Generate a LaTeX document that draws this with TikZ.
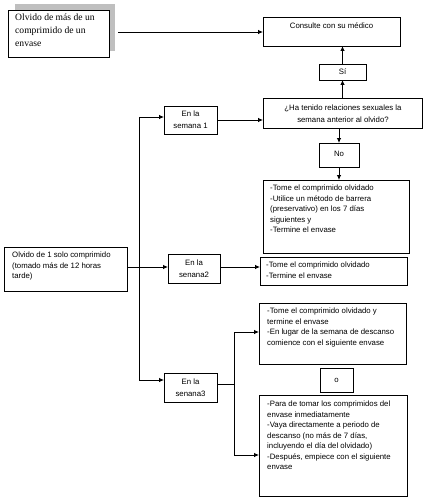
\documentclass[tikz,border=0pt]{standalone}
\usepackage{fontspec}
\setmainfont{Liberation Sans}
\newfontfamily\serifr{Liberation Serif}
\usetikzlibrary{arrows.meta,calc}
\begin{document}
\begin{tikzpicture}[x=1pt,y=-1pt,
 bx/.style={draw, line width=0.8pt, anchor=north west, inner sep=0pt, outer sep=0pt},
 arr/.style={line width=0.8pt, -{Latex[length=5pt,width=4.5pt]}},
 ln/.style={line width=0.8pt},
 txt/.style={font=\fontsize{7.8}{10.5}\selectfont, align=left, anchor=north west, inner sep=0pt},
 ctxt/.style={font=\fontsize{7.8}{11.8}\selectfont, align=center, inner sep=0pt}]
\useasboundingbox (0,0) rectangle (423,500);
% shadowed top-left box
\fill[black!25] (15,4) rectangle (115,51);
\node[bx, fill=white, minimum width=101pt, minimum height=47pt] (b0) at (8,10) {};
\node[txt, font=\serifr\fontsize{9.6}{13}\selectfont] (t0) at (15,14) {Olvido de más de un\\comprimido de un\\envase};
% right column
\node[bx, minimum width=137pt, minimum height=29pt] (cons) at (263,17) {};
\node[ctxt] (tcons) at (331.5,26) {Consulte con su médico};
\node[bx, minimum width=47pt, minimum height=16pt] (si) at (319,64) {};
\node[ctxt] (tsi) at (si.center) {Sí};
\node[bx, minimum width=159pt, minimum height=30pt] (q) at (263,98) {};
\node[ctxt] (tq) at (343,114) {¿Ha tenido relaciones sexuales la\\semana anterior al olvido?};
\node[bx, minimum width=40pt, minimum height=24pt] (no) at (319,143) {};
\node[ctxt] (tno) at (339,154) {No};
\node[bx, minimum width=146pt, minimum height=73pt] (b1) at (263,180) {};
\node[txt] (t1) at (270,185) {-Tome el comprimido olvidado\\-Utilice un método de barrera\\(preservativo) en los 7 días\\siguientes y\\-Termine el envase};
\node[bx, minimum width=147pt, minimum height=28pt] (b2) at (260,257) {};
\node[txt] (t2) at (266,262) {-Tome el comprimido olvidado\\-Termine el envase};
\node[bx, minimum width=147pt, minimum height=61pt] (b3) at (259,303) {};
\node[txt] (t3) at (267,308) {-Tome el comprimido olvidado y\\termine el envase\\-En lugar de la semana de descanso\\comience con el siguiente envase};
\node[bx, minimum width=33pt, minimum height=24pt] (o) at (320,368) {};
\node[ctxt] (to) at (o.center) {o};
\node[bx, minimum width=148pt, minimum height=101pt] (b4) at (259,395) {};
\node[txt] (t4) at (267,401) {-Para de tomar los comprimidos del\\envase inmediatamente\\-Vaya directamente a periodo de\\descanso (no más de 7 días,\\incluyendo el día del olvidado)\\-Después, empiece con el siguiente\\envase};
% middle column
\node[bx, minimum width=53pt, minimum height=28pt] (s1) at (164,106) {};
\node[ctxt] (ts1) at (s1.center) {En la\\semana 1};
\node[bx, minimum width=52pt, minimum height=29pt] (s2) at (168,254) {};
\node[ctxt] (ts2) at (s2.center) {En la\\senana2};
\node[bx, minimum width=53pt, minimum height=29pt] (s3) at (164,373) {};
\node[ctxt] (ts3) at (s3.center) {En la\\senana3};
% left box
\node[bx, minimum width=123pt, minimum height=44pt] (L) at (4,247) {};
\node[txt] (tL) at (12,252) {Olvido de 1 solo comprimido\\(tomado más de 12 horas\\tarde)};
% connectors
\coordinate (c0) at (118,32);
\draw[arr] (c0) -- (c0 -| cons.west);
\draw[arr] (q.north -| si.south) -- (si.south);
\draw[arr] (si.north) -- (si.north |- cons.south);
\draw[arr] (no.north |- q.south) -- (no.north);
\draw[arr] (no.south) -- (no.south |- b1.north);
\draw[arr] (s1.east) -- (s1.east -| q.west);
\coordinate (vL) at (139,267);
\draw[ln] (L.east |- vL) -- (vL);
\coordinate (v1) at (139,117);
\coordinate (v3) at (139,380);
\draw[arr] (v1) -- (v1 -| s1.west);
\draw[ln] (v1) -- (v3);
\draw[arr] (v3) -- (v3 -| s3.west);
\draw[arr] (vL) -- (vL -| s2.west);
\coordinate (s2o) at (220,267);
\draw[arr] (s2o) -- (s2o -| b2.west);
\coordinate (j) at (234,384);
\coordinate (j3) at (234,332);
\coordinate (j4) at (234,455);
\draw[ln] (s3.east |- j) -- (j);
\draw[ln] (j3) -- (j4);
\draw[arr] (j3) -- (j3 -| b3.west);
\draw[arr] (j4) -- (j4 -| b4.west);
\end{tikzpicture}
\end{document}
